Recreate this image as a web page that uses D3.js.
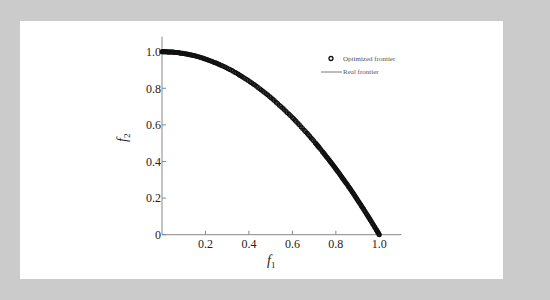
<!DOCTYPE html>
<html>
<head>
<meta charset="utf-8">
<script src="https://cdn.jsdelivr.net/npm/d3@7"></script>
<style>
  html, body { margin: 0; padding: 0; background: #cbcbcb; }
  svg { display: block; }
</style>
</head>
<body>
<svg id="chart" width="550" height="300"></svg>
<script>
// optimized frontier points
var optF1 = [0.000,0.003,0.005,0.008,0.010,0.013,0.015,0.018,0.020,0.024,0.028,0.031,0.035,0.038,0.042,0.046,
    0.050,0.054,0.058,0.062,0.066,0.070,0.075,0.079,0.083,0.087,0.092,0.096,0.100,0.105,
    0.110,0.115,0.120,0.125,0.130,0.135,0.140,0.145,0.150,0.156,0.162,0.168,0.175,0.181,0.188,0.194,
    0.200,0.206,0.212,0.218,0.225,0.231,0.238,0.244,0.250,0.256,0.262,0.268,0.275,0.282,
    0.290,0.297,0.305,0.312,0.320,0.327,0.335,0.342,0.350,0.356,0.362,0.368,0.375,0.382,0.390,0.397,
    0.405,0.412,0.420,0.427,0.435,0.442,0.450,0.457,0.465,0.472,0.480,0.487,0.495,0.502,
    0.510,0.517,0.525,0.532,0.540,0.547,0.555,0.562,0.570,0.577,0.585,0.592,0.600,0.606,
    0.612,0.618,0.625,0.632,0.640,0.647,0.655,0.661,0.668,0.674,0.680,0.686,0.692,0.698,0.705,0.708,
    0.712,0.715,0.718,0.721,0.725,0.731,0.738,0.741,0.745,0.748,0.752,0.756,0.760,0.764,0.768,0.771,
    0.775,0.778,0.782,0.786,0.790,0.794,0.798,0.801,0.805,0.808,0.812,0.816,0.820,0.824,
    0.828,0.831,0.835,0.838,0.842,0.846,0.850,0.854,0.858,0.861,0.865,0.868,0.872,0.876,
    0.880,0.884,0.888,0.891,0.895,0.898,0.902,0.906,0.910,0.914,0.918,0.921,0.925,0.928,0.932,0.936,
    0.940,0.944,0.948,0.951,0.955,0.958,0.962,0.966,0.970,0.974,0.978,0.981,0.985,0.988,
    0.990,0.993,0.995,0.998,1.000];
var optF2 = [1.000,1.000,1.000,1.000,1.000,1.000,1.000,1.000,1.000,0.999,0.999,0.999,0.999,0.999,0.998,0.998,
    0.998,0.997,0.997,0.996,0.996,0.995,0.994,0.994,0.993,0.992,0.992,0.991,0.990,0.989,
    0.988,0.987,0.986,0.984,0.983,0.982,0.980,0.979,0.978,0.976,0.974,0.972,0.969,0.967,0.965,0.962,
    0.960,0.958,0.955,0.952,0.949,0.947,0.943,0.940,0.938,0.934,0.931,0.928,0.924,0.920,
    0.916,0.912,0.907,0.903,0.898,0.893,0.888,0.883,0.878,0.873,0.869,0.865,0.859,0.854,0.848,0.842,
    0.836,0.830,0.824,0.818,0.811,0.805,0.798,0.791,0.784,0.777,0.770,0.763,0.755,0.748,
    0.740,0.733,0.724,0.717,0.708,0.701,0.692,0.684,0.675,0.667,0.658,0.650,0.640,0.633,
    0.625,0.618,0.609,0.601,0.590,0.581,0.571,0.563,0.554,0.546,0.538,0.529,0.521,0.513,0.503,0.499,
    0.493,0.489,0.484,0.480,0.474,0.466,0.455,0.451,0.445,0.440,0.434,0.428,0.422,0.416,0.410,0.406,
    0.399,0.395,0.388,0.382,0.376,0.370,0.363,0.358,0.352,0.347,0.341,0.334,0.328,0.321,
    0.314,0.309,0.303,0.298,0.291,0.284,0.278,0.271,0.264,0.259,0.252,0.247,0.240,0.233,
    0.226,0.219,0.211,0.206,0.199,0.194,0.186,0.179,0.172,0.165,0.157,0.152,0.144,0.139,0.131,0.124,
    0.116,0.109,0.101,0.096,0.088,0.082,0.075,0.067,0.059,0.051,0.044,0.038,0.030,0.024,
    0.020,0.014,0.010,0.004,0.000];

// real frontier line
var realF1 = [0.00,0.05,0.10,0.15,0.20,0.25,0.30,0.35,0.40,0.45,0.50,0.55,0.60,0.65,0.70,0.75,0.80,0.85,0.90,0.95,1.00];
var realF2 = [1.000,0.998,0.990,0.978,0.960,0.938,0.910,0.878,0.840,0.798,0.750,0.698,0.640,0.578,0.510,0.438,0.360,0.278,0.190,0.098,0.000];

var xTicks = [0.2, 0.4, 0.6, 0.8, 1.0];
var yTicks = [0, 0.2, 0.4, 0.6, 0.8, 1.0];

var svg = d3.select('#chart');

// white panel
svg.append('rect')
    .attr('x', 20).attr('y', 21)
    .attr('width', 483).attr('height', 258)
    .attr('fill', '#fff');

var x0 = 162, y0 = 234.7;
var x = d3.scaleLinear().domain([0, 1]).range([x0, 379.3]);
var y = d3.scaleLinear().domain([0, 1]).range([y0, 51.7]);

var axisColor = '#888';
var font = '"Liberation Serif", "Times New Roman", serif';

// axes lines
svg.append('line')
    .attr('x1', x0).attr('x2', x(1.102))
    .attr('y1', y0).attr('y2', y0)
    .attr('stroke', axisColor).attr('stroke-width', 1);
svg.append('line')
    .attr('x1', x0).attr('x2', x0)
    .attr('y1', y0).attr('y2', y(1.082))
    .attr('stroke', axisColor).attr('stroke-width', 1);

// x ticks (inward) + labels
var xt = svg.selectAll('.xt').data(xTicks).enter().append('g')
    .attr('transform', function (d) { return 'translate(' + x(d) + ',' + y0 + ')'; });
xt.append('line').attr('y1', 0).attr('y2', -4).attr('stroke', axisColor);
xt.append('text')
    .attr('y', 13).attr('text-anchor', 'middle')
    .attr('font-family', font).attr('font-size', 12).attr('fill', '#222')
    .text(function (d) { return d3.format('.1f')(d); });

// y ticks + labels
var yt = svg.selectAll('.yt').data(yTicks).enter().append('g')
    .attr('transform', function (d) { return 'translate(' + x0 + ',' + y(d) + ')'; });
yt.append('line').attr('x1', 0).attr('x2', 4).attr('stroke', axisColor);
yt.append('text')
    .attr('x', -1).attr('dy', '0.35em').attr('text-anchor', 'end')
    .attr('font-family', font).attr('font-size', 12).attr('fill', '#222')
    .text(function (d) { return d === 0 ? '0' : d3.format('.1f')(d); });

// axis titles
var xl = svg.append('text')
    .attr('x', 267).attr('y', 265)
    .attr('font-family', font).attr('font-size', 14).attr('font-style', 'italic').attr('fill', '#222');
xl.append('tspan').text('f');
xl.append('tspan').attr('font-size', 9).attr('font-style', 'normal').attr('dy', 3).text('1');

var yl = svg.append('text')
    .attr('transform', 'translate(127,142) rotate(-90)')
    .attr('font-family', font).attr('font-size', 14).attr('font-style', 'italic').attr('fill', '#222');
yl.append('tspan').text('f');
yl.append('tspan').attr('font-size', 9).attr('font-style', 'normal').attr('dy', 3).text('2');

// real frontier
var realData = realF1.map(function (d, i) { return [d, realF2[i]]; });
svg.append('path')
    .datum(realData)
    .attr('fill', 'none').attr('stroke', '#333').attr('stroke-width', 1)
    .attr('d', d3.line().curve(d3.curveMonotoneX)
        .x(function (d) { return x(d[0]); })
        .y(function (d) { return y(d[1]); }));

// optimized points
svg.selectAll('.pt').data(optF1).enter().append('circle')
    .attr('cx', function (d) { return x(d); })
    .attr('cy', function (d, i) { return y(optF2[i]); })
    .attr('r', 1.9)
    .attr('fill', 'none').attr('stroke', '#111').attr('stroke-width', 1.2);

// legend
svg.append('circle')
    .attr('cx', 331).attr('cy', 58.5).attr('r', 2)
    .attr('fill', 'none').attr('stroke', '#111').attr('stroke-width', 1.3);
svg.append('text')
    .attr('x', 343).attr('y', 58.5).attr('dy', '0.35em')
    .attr('font-family', font).attr('font-size', 7).attr('fill', '#555')
    .text('Optimized frontier');
svg.append('line')
    .attr('x1', 321).attr('x2', 342).attr('y1', 72).attr('y2', 72)
    .attr('stroke', '#555').attr('stroke-width', 0.8);
svg.append('text')
    .attr('x', 343).attr('y', 72).attr('dy', '0.35em')
    .attr('font-family', font).attr('font-size', 7).attr('fill', '#555')
    .text('Real frontier');
</script>
</body>
</html>
